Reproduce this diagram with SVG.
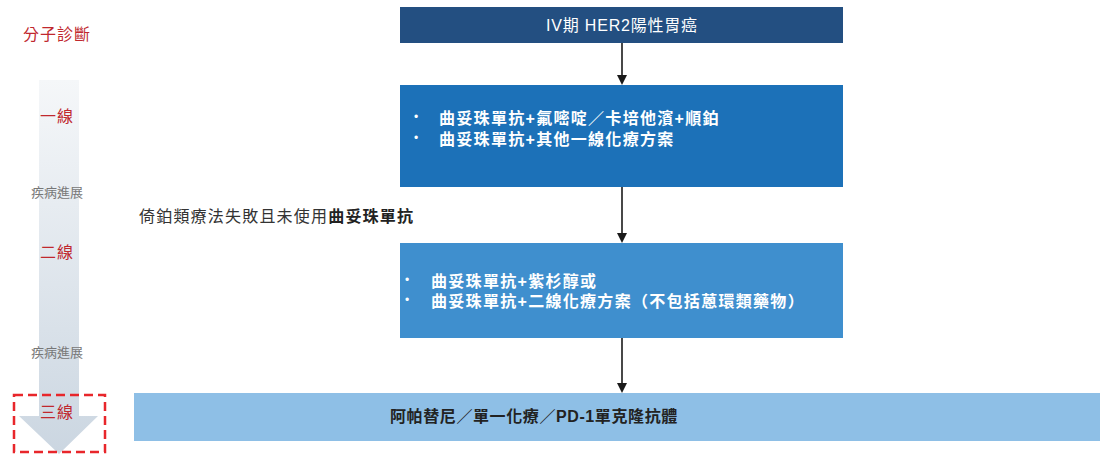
<svg xmlns="http://www.w3.org/2000/svg" width="1100" height="454" viewBox="0 0 1100 454">
<defs>
<linearGradient id="bar" x1="0" y1="0" x2="0" y2="1">
<stop offset="0" stop-color="#f5f7f9"/>
<stop offset="1" stop-color="#cbd6e1"/>
</linearGradient>
<style>
text{font-family:"Liberation Sans","Noto Sans CJK TC",sans-serif;}
.red{fill:#c0282e;font-size:16px;text-anchor:middle;letter-spacing:1px;}
.gray{fill:#777;font-size:13px;text-anchor:middle;}
.wt{fill:#fff;font-size:16px;letter-spacing:1.3px;font-weight:bold;}
.bul{fill:#fff;font-size:12px;}
.conn{stroke:#1a1a1a;stroke-width:1.6;fill:none;}
.head{fill:#1a1a1a;}
</style>
</defs>
<rect width="1100" height="454" fill="#fff"/>

<g id="timeline">
<path d="M39,80 H79 V416 H98 L59,454 L19,416 H39 Z" fill="url(#bar)"/>
<text class="red" x="57" y="40">分子診斷</text>
<text class="red" x="57" y="122">一線</text>
<text class="gray" x="57" y="197">疾病進展</text>
<text class="red" x="57" y="258">二線</text>
<text class="gray" x="57" y="357">疾病進展</text>
<text class="red" x="57" y="418">三線</text>
<rect x="14" y="395" width="91" height="57" fill="none" stroke="#e8262b" stroke-width="2.5" stroke-dasharray="9,5"/>
</g>

<g id="connectors">
<line class="conn" x1="622" y1="43" x2="622" y2="77"/>
<path class="head" d="M617,75 L627,75 L622,85 Z"/>
<line class="conn" x1="622" y1="187" x2="622" y2="235"/>
<path class="head" d="M617,233 L627,233 L622,243 Z"/>
<line class="conn" x1="622" y1="338" x2="622" y2="385"/>
<path class="head" d="M617,383 L627,383 L622,393 Z"/>
</g>

<g id="node-stage">
<rect x="400" y="7" width="443" height="36" fill="#234f81"/>
<text x="622" y="31" fill="#fff" font-size="16" letter-spacing="0.8" text-anchor="middle">IV期 HER2陽性胃癌</text>
</g>

<g id="node-first">
<rect x="400" y="85" width="443" height="102" fill="#1c71b8"/>
<text class="bul" x="414" y="121">•</text>
<text class="wt" x="439" y="124">曲妥珠單抗+氟嘧啶／卡培他濱+順鉑</text>
<text class="bul" x="414" y="142">•</text>
<text class="wt" x="439" y="145">曲妥珠單抗+其他一線化療方案</text>
</g>

<g id="label-condition">
<text x="139" y="222" fill="#333" font-size="16" letter-spacing="1.2">倚鉑類療法失敗且未使用<tspan font-weight="bold" fill="#222">曲妥珠單抗</tspan></text>
</g>

<g id="node-second">
<rect x="400" y="243" width="443" height="95" fill="#3f8fce"/>
<text class="bul" x="405" y="284">•</text>
<text class="wt" x="431" y="287">曲妥珠單抗+紫杉醇或</text>
<text class="bul" x="405" y="304">•</text>
<text class="wt" x="431" y="307">曲妥珠單抗+二線化療方案（不包括蒽環類藥物）</text>
</g>

<g id="node-third">
<rect x="134" y="393" width="966" height="48" fill="#8ebfe6"/>
<text x="390" y="422" fill="#222" font-size="16" font-weight="bold" letter-spacing="0.6">阿帕替尼／單一化療／PD-1單克隆抗體</text>
</g>
</svg>
